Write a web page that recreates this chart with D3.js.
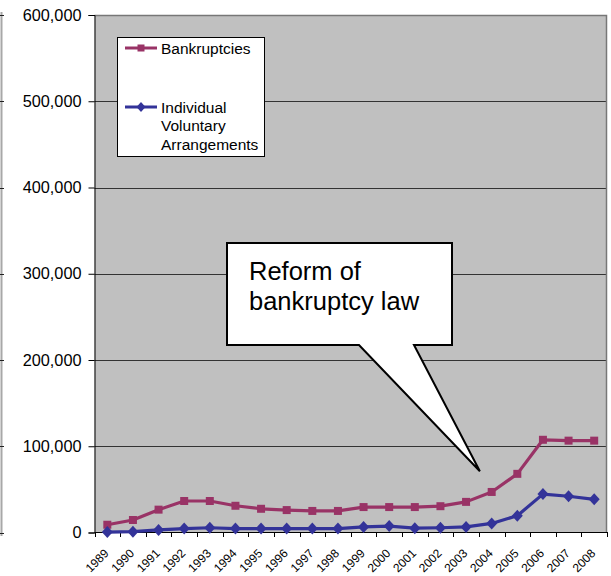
<!DOCTYPE html>
<html>
<head>
<meta charset="utf-8">
<script src="https://cdn.jsdelivr.net/npm/d3@7"></script>
<style>
  html, body { margin: 0; padding: 0; background: #fff; }
  svg { display: block; }
  text { font-family: "Liberation Sans", Arial, sans-serif; fill: #000; }
</style>
</head>
<body>
<script>
// Years on the category axis
const years = ["1989","1990","1991","1992","1993","1994","1995","1996","1997","1998",
               "1999","2000","2001","2002","2003","2004","2005","2006","2007","2008"];
// Individual insolvencies per year
const bankruptcies = [9000, 14500, 26500, 36500, 36500, 31000, 27500, 26000, 25000, 25000,
                      29500, 29500, 29500, 30500, 35500, 47000, 68000, 107500, 106500, 106500];
const ivas = [500, 1000, 3000, 4500, 5500, 4500, 4500, 4500, 4500, 4500,
              6500, 7500, 5000, 5500, 6500, 10500, 19500, 44500, 42000, 38500];
const yTicks = [0, 100000, 200000, 300000, 400000, 500000, 600000];
const seriesNames = ["Bankruptcies", "Individual Voluntary Arrangements"];
const seriesColors = ["#993366", "#333399"];
const calloutLines = ["Reform of", "bankruptcy law"];
const calloutYear = "2004";
const calloutValue = 71000;

const W = 611, H = 576;
const svg = d3.select("body").append("svg").attr("width", W).attr("height", H);

const x = d3.scaleBand().domain(years).range([94.5, 607]);
const y = d3.scaleLinear().domain([0, 600000]).range([532.5, 15]);
const fmt = d3.format(",");

// Edge of the neighbouring axis at the far left
svg.append("line").attr("x1", 1.5).attr("x2", 1.5).attr("y1", 12).attr("y2", 536)
  .attr("stroke", "#a8a8a8").attr("stroke-width", 2);
svg.selectAll(".edgeTick").data(yTicks).join("line")
  .attr("x1", 0).attr("x2", 4)
  .attr("y1", d => Math.round(y(d)) + 0.5).attr("y2", d => Math.round(y(d)) + 0.5)
  .attr("stroke", "#222").attr("stroke-width", 1);

// Plot area
svg.append("rect").attr("x", 94.5).attr("y", 15).attr("width", 607 - 94.5).attr("height", 532.5 - 15)
  .attr("fill", "#c0c0c0");

// Horizontal gridlines
svg.selectAll(".grid").data(yTicks.slice(1)).join("line")
  .attr("x1", 94.5).attr("x2", 607)
  .attr("y1", d => Math.round(y(d)) + 0.5).attr("y2", d => Math.round(y(d)) + 0.5)
  .attr("stroke", "#333").attr("stroke-width", 1);

// Plot frame on the top and right
svg.append("path").attr("d", "M94.5,15.5 H606.5 V532")
  .attr("fill", "none").attr("stroke", "#777").attr("stroke-width", 1.5);

// Y axis
const yAxis = d3.axisLeft(y).tickValues(yTicks).tickFormat(fmt).tickSize(6).tickPadding(7);
const gy = svg.append("g").attr("transform", "translate(94.5,0)").call(yAxis);
gy.select(".domain").attr("stroke", "#000");
gy.selectAll(".tick line").attr("stroke", "#000");
gy.selectAll(".tick text").style("font-size", "16.3px")
  .style("font-family", "'Liberation Sans', Arial, sans-serif").attr("fill", "#000");

// X axis: ticks on category boundaries, labels rotated
const boundaries = years.map(d => x(d)).concat([x.range()[1]]);
const gx = svg.append("g");
gx.append("line").attr("x1", 94.5).attr("x2", 607).attr("y1", 532.5).attr("y2", 532.5)
  .attr("stroke", "#000").attr("stroke-width", 1);
gx.selectAll(".xt").data(boundaries).join("line")
  .attr("x1", d => Math.round(d) + 0.5).attr("x2", d => Math.round(d) + 0.5)
  .attr("y1", 532).attr("y2", 537).attr("stroke", "#000");
gx.selectAll(".xl").data(years).join("text")
  .attr("transform", d => `translate(${x(d) + x.bandwidth() / 2 - 4},548) rotate(-45)`)
  .attr("text-anchor", "end").attr("dy", "0.72em")
  .style("font-size", "12px").text(d => d);

// Series lines and markers
const line = d3.line().x((d, i) => x(years[i]) + x.bandwidth() / 2).y(d => y(d));
const squarePath = s => `M${-s},${-s}H${s}V${s}H${-s}Z`;
const diamondPath = (w, h) => `M0,${-h}L${w},0L0,${h}L${-w},0Z`;

[bankruptcies, ivas].forEach((vals, k) => {
  svg.append("path").datum(vals).attr("d", line)
    .attr("fill", "none").attr("stroke", seriesColors[k]).attr("stroke-width", 3.2)
    .attr("stroke-linejoin", "round");
  svg.selectAll(".m" + k).data(vals).join("path")
    .attr("transform", (d, i) => `translate(${x(years[i]) + x.bandwidth() / 2},${y(d)})`)
    .attr("d", k === 0 ? squarePath(4) : diamondPath(5.5, 6))
    .attr("fill", seriesColors[k]);
});

// Legend
const lg = svg.append("g");
lg.append("rect").attr("x", 117.5).attr("y", 37.5).attr("width", 147).attr("height", 119)
  .attr("fill", "#fff").attr("stroke", "#000").attr("stroke-width", 1);
const legendRows = [48, 107];
seriesNames.forEach((name, k) => {
  const ly = legendRows[k];
  lg.append("line").attr("x1", 125).attr("x2", 157).attr("y1", ly).attr("y2", ly)
    .attr("stroke", seriesColors[k]).attr("stroke-width", 3);
  lg.append("path").attr("transform", `translate(141,${ly})`)
    .attr("d", k === 0 ? squarePath(3.5) : diamondPath(4.5, 5)).attr("fill", seriesColors[k]);
  const words = k === 0 ? [name] : name.split(" ");
  const t = lg.append("text").attr("x", 161).attr("y", ly + 5.5).style("font-size", "15.5px");
  words.forEach((w, j) => t.append("tspan").attr("x", 161).attr("dy", j === 0 ? 0 : 18.5).text(w));
});

// Callout pointing at the reform year
const tipX = x(calloutYear) + 1, tipY = y(calloutValue);
svg.append("path")
  .attr("d", `M227,243 H452 V345 H414 L${tipX},${tipY} L359,345 H227 Z`)
  .attr("fill", "#fff").attr("stroke", "#000").attr("stroke-width", 2).attr("stroke-linejoin", "miter");
calloutLines.forEach((s, j) => {
  svg.append("text").attr("x", 249).attr("y", 280 + j * 30).style("font-size", "25.5px").text(s);
});
</script>
</body>
</html>
